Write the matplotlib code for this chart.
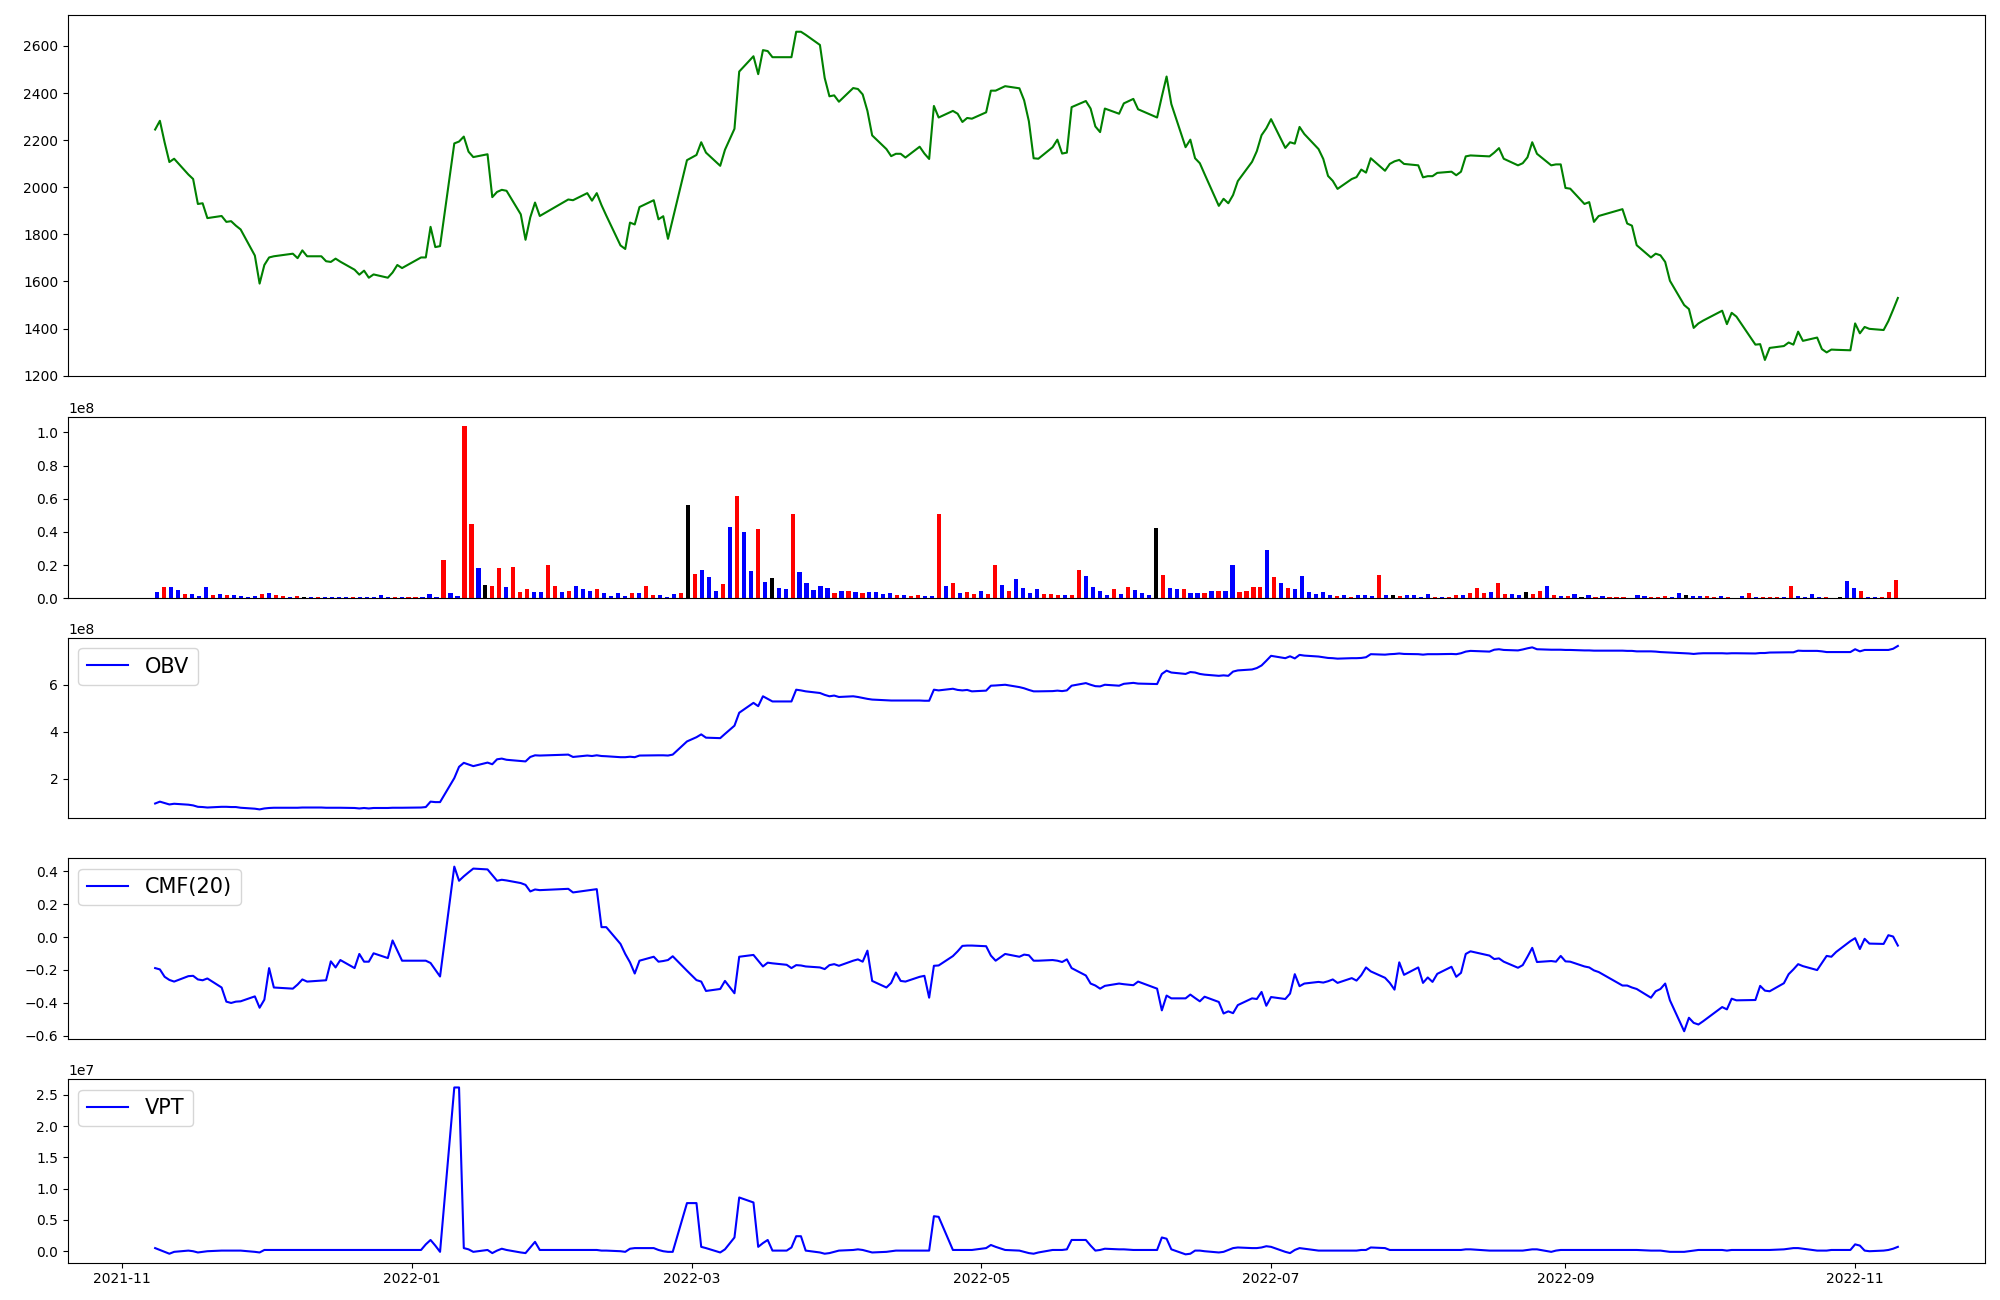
import numpy as np
import pandas as pd
import matplotlib
matplotlib.use('Agg')
import matplotlib.pyplot as plt
import matplotlib.dates as mdates

# trading days (KRX calendar, holidays removed)
holidays = ['2021-12-31', '2022-01-31', '2022-02-01', '2022-02-02', '2022-03-01',
            '2022-03-09', '2022-05-05', '2022-06-01', '2022-06-06', '2022-08-15',
            '2022-09-09', '2022-09-12', '2022-10-03', '2022-10-10']
dates = pd.bdate_range('2021-11-08', '2022-11-10', freq='C', holidays=holidays)

close = [
    # 2021-11
    2245, 2282, 2190, 2107, 2121, 2054, 2035, 1929, 1932, 1869, 1878, 1853, 1856, 1837, 1821, 1710, 1591,
    # 2021-12
    1670, 1702, 1707, 1715, 1718, 1699, 1732, 1707, 1707, 1686, 1683, 1697, 1684, 1650, 1629, 1646, 1616,
    1630, 1616, 1638, 1670, 1657,
    # 2022-01
    1702, 1702, 1832, 1746, 1750, 2186, 2194, 2215, 2151, 2128, 2140, 1958, 1980, 1989, 1985, 1885, 1777,
    1872, 1935, 1878,
    # 2022-02
    1948, 1945, 1975, 1943, 1975, 1924, 1880, 1753, 1738, 1850, 1842, 1916, 1945, 1864, 1877, 1781, 1865, 2115,
    # 2022-03
    2137, 2191, 2147, 2091, 2159, 2248, 2491, 2556, 2480, 2582, 2578, 2552, 2552, 2552, 2660, 2660, 2647,
    2604, 2464, 2386, 2390,
    # 2022-04
    2363, 2421, 2417, 2394, 2324, 2220, 2162, 2132, 2142, 2142, 2126, 2172, 2143, 2120, 2345, 2296, 2324,
    2312, 2277, 2294, 2291,
    # 2022-05
    2318, 2410, 2410, 2429, 2420, 2369, 2280, 2123, 2121, 2170, 2202, 2143, 2147, 2340, 2366, 2334, 2258,
    2234, 2334, 2312, 2356,
    # 2022-06
    2375, 2331, 2296, 2385, 2470, 2353, 2170, 2202, 2123, 2102, 2056, 1921, 1951, 1932, 1967, 2026, 2108,
    2153, 2221, 2250,
    # 2022-07
    2289, 2167, 2191, 2185, 2256, 2226, 2162, 2120, 2048, 2027, 1993, 2035, 2043, 2075, 2062, 2123, 2070,
    2099, 2110, 2116, 2099,
    # 2022-08
    2093, 2042, 2047, 2047, 2061, 2066, 2051, 2066, 2131, 2135, 2131, 2147, 2166, 2121, 2093, 2102, 2127,
    2191, 2142, 2093, 2097, 2097,
    # 2022-09
    1997, 1994, 1929, 1937, 1853, 1878, 1907, 1846, 1837, 1754, 1702, 1718, 1711, 1683, 1603, 1500, 1483,
    1403, 1422, 1434,
    # 2022-10
    1476, 1419, 1467, 1451, 1332, 1334, 1267, 1318, 1326, 1341, 1332, 1387, 1348, 1362, 1313, 1299, 1311,
    1310, 1308,
    # 2022-11
    1422, 1380, 1407, 1399, 1394, 1432, 1480, 1530,
]

# volume in units of 1e8, one bar per trading day
volume = [
    0.04, 0.07, 0.07, 0.05, 0.025, 0.025, 0.015, 0.07, 0.02, 0.025,
    0.02, 0.02, 0.015, 0.01, 0.015, 0.025, 0.03, 0.02, 0.015, 0.01,
    0.015, 0.01, 0.01, 0.01, 0.01, 0.005, 0.01, 0.005, 0.005, 0.005,
    0.01, 0.01, 0.02, 0.01, 0.01, 0.01, 0.01, 0.01, 0.01, 0.025,
    0.01, 0.23, 0.03, 0.015, 1.04, 0.45, 0.18, 0.08, 0.075, 0.18,
    0.065, 0.19, 0.04, 0.055, 0.04, 0.04, 0.20, 0.075, 0.04, 0.045,
    0.075, 0.055, 0.045, 0.055, 0.033, 0.015, 0.033, 0.015, 0.033, 0.033,
    0.071, 0.019, 0.019, 0.008, 0.026, 0.033, 0.562, 0.146, 0.171, 0.128,
    0.044, 0.087, 0.430, 0.616, 0.400, 0.164, 0.418, 0.098, 0.121, 0.062,
    0.055, 0.509, 0.157, 0.092, 0.051, 0.074, 0.062, 0.033, 0.044, 0.044,
    0.037, 0.033, 0.037, 0.037, 0.026, 0.033, 0.019, 0.019, 0.015, 0.019,
    0.015, 0.015, 0.509, 0.071, 0.092, 0.033, 0.037, 0.026, 0.044, 0.026,
    0.201, 0.080, 0.044, 0.117, 0.062, 0.033, 0.055, 0.026, 0.026, 0.019,
    0.019, 0.019, 0.171, 0.135, 0.069, 0.044, 0.019, 0.055, 0.026, 0.069,
    0.051, 0.033, 0.019, 0.423, 0.139, 0.062, 0.055, 0.055, 0.033, 0.033,
    0.033, 0.044, 0.044, 0.044, 0.201, 0.037, 0.044, 0.069, 0.069, 0.291,
    0.128, 0.092, 0.062, 0.055, 0.135, 0.037, 0.026, 0.037, 0.019, 0.015,
    0.019, 0.008, 0.019, 0.019, 0.015, 0.139, 0.019, 0.019, 0.015, 0.019,
    0.019, 0.008, 0.026, 0.008, 0.008, 0.008, 0.019, 0.019, 0.033, 0.062,
    0.033, 0.037, 0.092, 0.026, 0.026, 0.019, 0.037, 0.026, 0.044, 0.074,
    0.019, 0.015, 0.015, 0.026, 0.008, 0.019, 0.008, 0.015, 0.008, 0.008,
    0.008, 0.004, 0.019, 0.015, 0.008, 0.008, 0.015, 0.008, 0.033, 0.019,
    0.015, 0.015, 0.015, 0.008, 0.015, 0.008, 0.004, 0.015, 0.033, 0.008,
    0.008, 0.008, 0.008, 0.008, 0.074, 0.015, 0.008, 0.026, 0.008, 0.008,
    0.004, 0.008, 0.103, 0.062, 0.044, 0.008, 0.008, 0.008, 0.037, 0.110,
]
# r = up, b = down, k = unchanged
bar_colors = ("brbbrbbbrb" "rbbbbrbrrb" "rkbrbbbbrb" "bbbbrbrrbb" "brbbrrbkrr"
              "brrrbbrrbr" "bbbrbbbbrb" "rrbbbrkrbb" "brbrbbrbkb" "brbbbbbrbr"
              "brbbbbrbrr" "bbrbrbrrbr" "rbrbbbbrrr" "brrbbbbrbr" "bbbkrbbrbb"
              "rbrbbrrrrb" "rbrbbbbbbr" "brbbbrbkrb" "bbbrbrrbrr" "rbrrbbkrrb"
              "rbrbkbrbrr" "rbbbrrrbbk" "bbrrbrrbrb" "rrrbrbbbbr" "kkbbrbbrrr")

# OBV in units of 1e8
obv = [
    0.95, 1.03, 0.97, 0.91, 0.94, 0.90, 0.87, 0.81, 0.80, 0.78, 0.81, 0.81, 0.80, 0.80, 0.77, 0.73, 0.70,
    0.74, 0.76, 0.77, 0.77, 0.77, 0.77, 0.78, 0.78, 0.78, 0.77, 0.77, 0.77, 0.77, 0.76, 0.74, 0.76, 0.74,
    0.76, 0.76, 0.77, 0.77, 0.77,
    0.78, 0.80, 1.03, 1.01, 1.01, 2.03, 2.51, 2.68, 2.61, 2.54, 2.69, 2.62, 2.83, 2.86, 2.81, 2.76, 2.74,
    2.93, 3.00, 2.99,
    3.03, 2.93, 2.99, 2.97, 3.00, 2.97, 2.96, 2.92, 2.92, 2.94, 2.92, 2.99, 3.00, 3.00, 3.00, 2.99, 3.03, 3.59,
    3.77, 3.89, 3.75, 3.73, 3.91, 4.26, 4.81, 5.23, 5.09, 5.51, 5.40, 5.29, 5.29, 5.29, 5.79, 5.76, 5.72,
    5.65, 5.57, 5.51, 5.54,
    5.48, 5.51, 5.48, 5.44, 5.40, 5.37, 5.34, 5.33, 5.33, 5.33, 5.33, 5.33, 5.32, 5.32, 5.79, 5.76, 5.83,
    5.78, 5.76, 5.78, 5.72,
    5.75, 5.96, 5.97, 6.00, 5.90, 5.85, 5.78, 5.72, 5.72, 5.73, 5.75, 5.73, 5.76, 5.96, 6.07, 6.00, 5.94,
    5.93, 6.00, 5.96, 6.04,
    6.08, 6.05, 6.03, 6.46, 6.60, 6.52, 6.46, 6.54, 6.52, 6.46, 6.43, 6.38, 6.40, 6.38, 6.56, 6.61, 6.65,
    6.71, 6.82, 7.02,
    7.23, 7.13, 7.21, 7.12, 7.27, 7.24, 7.20, 7.17, 7.14, 7.13, 7.11, 7.13, 7.13, 7.14, 7.17, 7.30, 7.28,
    7.30, 7.31, 7.33, 7.31,
    7.30, 7.28, 7.30, 7.30, 7.30, 7.31, 7.30, 7.34, 7.41, 7.44, 7.41, 7.49, 7.51, 7.48, 7.46, 7.50, 7.55,
    7.59, 7.51, 7.49, 7.49, 7.49,
    7.48, 7.48, 7.46, 7.46, 7.45, 7.45, 7.45, 7.44, 7.44, 7.42, 7.42, 7.41, 7.39, 7.38, 7.37, 7.34, 7.33,
    7.31, 7.33, 7.34,
    7.34, 7.33, 7.34, 7.34, 7.33, 7.35, 7.35, 7.37, 7.38, 7.38, 7.38, 7.45, 7.44, 7.44, 7.42, 7.39, 7.39,
    7.39, 7.39,
    7.51, 7.42, 7.48, 7.48, 7.48, 7.48, 7.53, 7.65,
]

cmf = [
    -0.189, -0.197, -0.242, -0.261, -0.271, -0.238, -0.236, -0.258, -0.263, -0.252, -0.307, -0.393, -0.401,
    -0.393, -0.391, -0.361, -0.430,
    -0.381, -0.189, -0.307, -0.312, -0.314, -0.289, -0.258, -0.271, -0.265, -0.263, -0.148, -0.185, -0.140,
    -0.189, -0.103, -0.150, -0.150, -0.099, -0.128, -0.021, -0.083, -0.144,
    -0.144, -0.144, -0.158, -0.199, -0.240, 0.428, 0.342, 0.369, 0.393, 0.416, 0.411, 0.377, 0.342, 0.348,
    0.344, 0.328, 0.317, 0.277, 0.289, 0.285,
    0.293, 0.271, 0.283, 0.287, 0.291, 0.060, 0.060, -0.042, -0.103, -0.154, -0.222, -0.144, -0.120, -0.150,
    -0.146, -0.140, -0.117, -0.205,
    -0.262, -0.271, -0.328, -0.316, -0.267, -0.342, -0.120, -0.109, -0.144, -0.179, -0.156, -0.160, -0.169,
    -0.189, -0.171, -0.173, -0.179, -0.185, -0.195, -0.171, -0.165,
    -0.175, -0.144, -0.136, -0.150, -0.083, -0.267, -0.307, -0.279, -0.216, -0.267, -0.271, -0.242, -0.236,
    -0.369, -0.175, -0.173, -0.116, -0.087, -0.054, -0.052, -0.052,
    -0.056, -0.113, -0.144, -0.103, -0.120, -0.107, -0.111, -0.144, -0.144, -0.140, -0.144, -0.152, -0.136,
    -0.189, -0.234, -0.283, -0.295, -0.314, -0.297, -0.283, -0.287,
    -0.293, -0.271, -0.314, -0.446, -0.356, -0.373, -0.373, -0.350, -0.371, -0.391, -0.363, -0.395, -0.465,
    -0.452, -0.463, -0.414, -0.373, -0.377, -0.334, -0.418,
    -0.365, -0.377, -0.344, -0.226, -0.299, -0.283, -0.273, -0.277, -0.269, -0.258, -0.279, -0.250, -0.265,
    -0.232, -0.185, -0.209, -0.248, -0.279, -0.320, -0.154, -0.230,
    -0.185, -0.279, -0.246, -0.273, -0.224, -0.181, -0.242, -0.218, -0.103, -0.087, -0.113, -0.134, -0.130,
    -0.150, -0.187, -0.171, -0.120, -0.066, -0.152, -0.146, -0.150, -0.115,
    -0.148, -0.150, -0.179, -0.185, -0.203, -0.213, -0.295, -0.295, -0.307, -0.316, -0.369, -0.330, -0.316,
    -0.283, -0.385, -0.573, -0.491, -0.522, -0.532, -0.512,
    -0.426, -0.440, -0.375, -0.385, -0.383, -0.297, -0.326, -0.330, -0.281, -0.226, -0.197, -0.165, -0.177,
    -0.201, -0.158, -0.115, -0.120, -0.091, -0.025,
    -0.007, -0.073, -0.011, -0.040, -0.042, 0.011, 0.003, -0.052,
]

# VPT in units of 1e7
vpt = [
    0.05, 0.02, -0.01, -0.04, -0.01, 0.01, 0.00, -0.02, -0.01, 0.00, 0.01, 0.01, 0.01, 0.01, 0.01, -0.01, -0.02,
    0.02, 0.02, 0.02, 0.02, 0.02, 0.02, 0.02, 0.02, 0.02, 0.02, 0.02, 0.02, 0.02, 0.02, 0.02, 0.02, 0.02,
    0.02, 0.02, 0.02, 0.02, 0.02,
    0.02, 0.11, 0.18, 0.09, -0.01, 2.62, 2.62, 0.05, 0.03, -0.01, 0.02, -0.03, 0.01, 0.04, 0.02, -0.02, -0.03,
    0.06, 0.15, 0.02,
    0.02, 0.02, 0.02, 0.02, 0.02, 0.01, 0.01, 0.00, -0.01, 0.04, 0.05, 0.05, 0.05, 0.02, 0.00, -0.01, -0.01, 0.77,
    0.77, 0.07, 0.05, -0.02, 0.03, 0.22, 0.86, 0.78, 0.07, 0.13, 0.18, 0.01, 0.01, 0.06, 0.24, 0.24, 0.01,
    -0.02, -0.04, -0.03, -0.01,
    0.01, 0.02, 0.03, 0.02, 0.00, -0.02, -0.01, 0.00, 0.01, 0.01, 0.01, 0.01, 0.01, 0.01, 0.56, 0.55, 0.02,
    0.02, 0.02, 0.02, 0.02,
    0.05, 0.10, 0.07, 0.02, 0.01, -0.01, -0.03, -0.04, -0.02, 0.02, 0.02, 0.02, 0.03, 0.18, 0.18, 0.09, 0.01,
    0.02, 0.04, 0.03, 0.03,
    0.02, 0.02, 0.02, 0.22, 0.20, 0.03, -0.05, -0.04, 0.01, 0.01, 0.00, -0.02, -0.01, 0.02, 0.05, 0.06, 0.05,
    0.05, 0.06, 0.08,
    0.07, -0.01, -0.03, 0.02, 0.05, 0.04, 0.01, 0.01, 0.01, 0.01, 0.01, 0.01, 0.01, 0.02, 0.02, 0.06, 0.05,
    0.02, 0.02, 0.02, 0.02,
    0.02, 0.02, 0.02, 0.02, 0.02, 0.02, 0.02, 0.02, 0.03, 0.03, 0.01, 0.01, 0.01, 0.01, 0.01, 0.01, 0.02,
    0.03, 0.03, -0.01, 0.01, 0.02,
    0.02, 0.02, 0.02, 0.02, 0.02, 0.02, 0.02, 0.02, 0.02, 0.02, 0.01, 0.01, 0.01, 0.00, -0.01, -0.01, 0.00,
    0.01, 0.02, 0.02,
    0.02, 0.01, 0.02, 0.02, 0.02, 0.02, 0.02, 0.02, 0.03, 0.04, 0.05, 0.05, 0.04, 0.01, 0.01, 0.01, 0.02,
    0.02, 0.02,
    0.11, 0.09, 0.01, 0.00, 0.01, 0.02, 0.04, 0.07,
]

color_map = {'r': 'red', 'b': 'blue', 'k': 'black'}

fig = plt.figure(figsize=(20, 13), dpi=100)
ax1 = fig.add_axes([0.034, 0.7105, 0.9585, 0.2777])
ax2 = fig.add_axes([0.034, 0.5398, 0.9585, 0.1393])
ax3 = fig.add_axes([0.034, 0.3711, 0.9585, 0.1383])
ax4 = fig.add_axes([0.034, 0.2004, 0.9585, 0.1393])
ax5 = fig.add_axes([0.034, 0.0287, 0.9585, 0.1412])

ax1.plot(dates, close, color='green')
ax1.set_xticks([])

ax2.bar(np.arange(len(volume)), np.array(volume) * 1e8, width=0.6,
        color=[color_map[c] for c in bar_colors])
ax2.set_xticks([])

ax3.plot(dates, np.array(obv) * 1e8, color='blue', label='OBV')
ax3.legend(loc='upper left', fontsize=15)
ax3.set_xticks([])

ax4.plot(dates, cmf, color='blue', label='CMF(20)')
ax4.legend(loc='upper left', fontsize=15)
ax4.set_xticks([])

ax5.plot(dates, np.array(vpt) * 1e7, color='blue', label='VPT')
ax5.legend(loc='upper left', fontsize=15)
ax5.xaxis.set_major_locator(mdates.MonthLocator(bymonth=[1, 3, 5, 7, 9, 11]))
ax5.xaxis.set_major_formatter(mdates.DateFormatter('%Y-%m'))

plt.savefig('out.png')
